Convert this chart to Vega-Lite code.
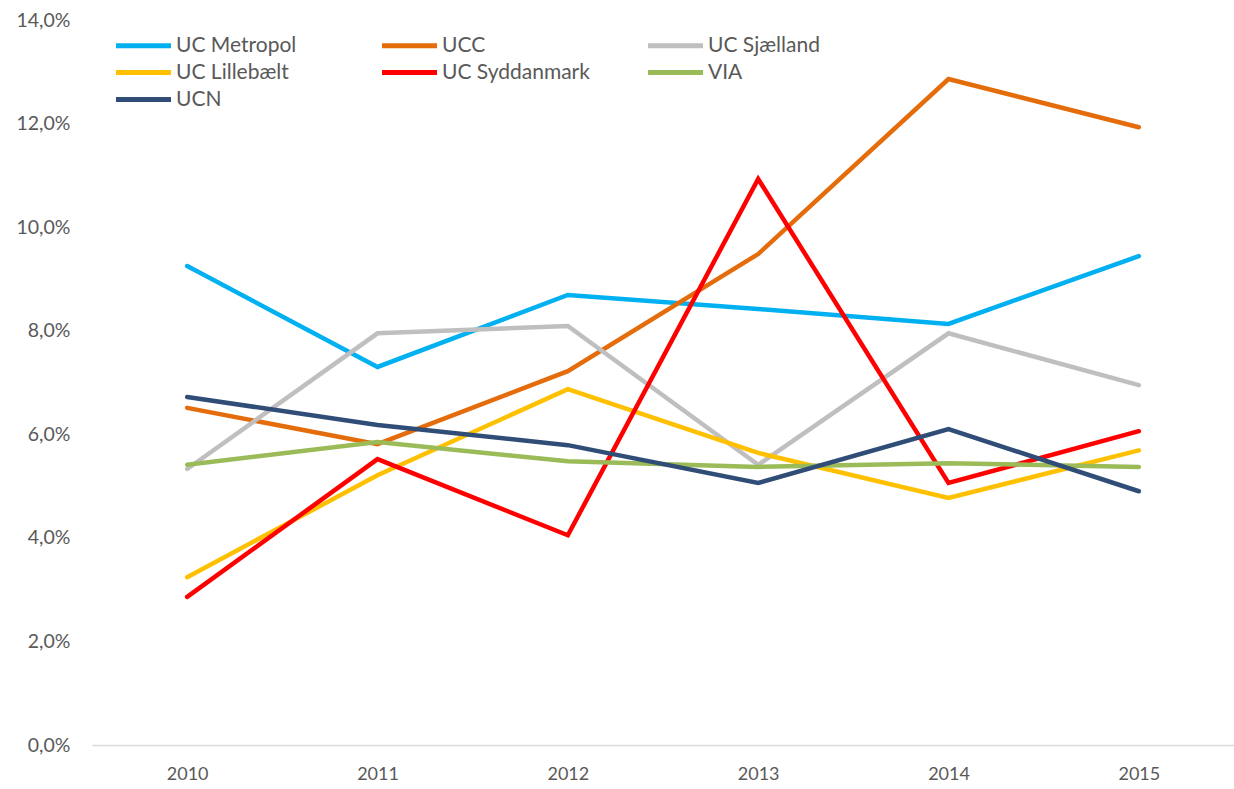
{
  "$schema": "https://vega.github.io/schema/vega-lite/v6.json",
  "width": 1142,
  "height": 725,
  "autosize": {"type": "none"},
  "padding": {"left": 92, "top": 20, "right": 0, "bottom": 44},
  "background": "white",
  "config": {
    "locale": {"number": {"decimal": ",", "thousands": ".", "grouping": [3], "currency": ["", " kr."]}},
    "view": {"stroke": null},
    "font": "Lato"
  },
  "data": {
    "values": [
      {"serie": "UC Metropol", "year": "2010", "value": 0.0925},
      {"serie": "UC Metropol", "year": "2011", "value": 0.0730},
      {"serie": "UC Metropol", "year": "2012", "value": 0.0869},
      {"serie": "UC Metropol", "year": "2013", "value": 0.0842},
      {"serie": "UC Metropol", "year": "2014", "value": 0.0813},
      {"serie": "UC Metropol", "year": "2015", "value": 0.0944},
      {"serie": "UCC", "year": "2010", "value": 0.0651},
      {"serie": "UCC", "year": "2011", "value": 0.0581},
      {"serie": "UCC", "year": "2012", "value": 0.0722},
      {"serie": "UCC", "year": "2013", "value": 0.0948},
      {"serie": "UCC", "year": "2014", "value": 0.1286},
      {"serie": "UCC", "year": "2015", "value": 0.1193},
      {"serie": "UC Sjælland", "year": "2010", "value": 0.0533},
      {"serie": "UC Sjælland", "year": "2011", "value": 0.0795},
      {"serie": "UC Sjælland", "year": "2012", "value": 0.0809},
      {"serie": "UC Sjælland", "year": "2013", "value": 0.0541},
      {"serie": "UC Sjælland", "year": "2014", "value": 0.0795},
      {"serie": "UC Sjælland", "year": "2015", "value": 0.0695},
      {"serie": "UC Lillebælt", "year": "2010", "value": 0.0324},
      {"serie": "UC Lillebælt", "year": "2011", "value": 0.0521},
      {"serie": "UC Lillebælt", "year": "2012", "value": 0.0687},
      {"serie": "UC Lillebælt", "year": "2013", "value": 0.0564},
      {"serie": "UC Lillebælt", "year": "2014", "value": 0.0477},
      {"serie": "UC Lillebælt", "year": "2015", "value": 0.0569},
      {"serie": "UC Syddanmark", "year": "2010", "value": 0.0286},
      {"serie": "UC Syddanmark", "year": "2011", "value": 0.0552},
      {"serie": "UC Syddanmark", "year": "2012", "value": 0.0405},
      {"serie": "UC Syddanmark", "year": "2013", "value": 0.1093},
      {"serie": "UC Syddanmark", "year": "2014", "value": 0.0506},
      {"serie": "UC Syddanmark", "year": "2015", "value": 0.0606},
      {"serie": "VIA", "year": "2010", "value": 0.0541},
      {"serie": "VIA", "year": "2011", "value": 0.0585},
      {"serie": "VIA", "year": "2012", "value": 0.0548},
      {"serie": "VIA", "year": "2013", "value": 0.0537},
      {"serie": "VIA", "year": "2014", "value": 0.0544},
      {"serie": "VIA", "year": "2015", "value": 0.0537},
      {"serie": "UCN", "year": "2010", "value": 0.0672},
      {"serie": "UCN", "year": "2011", "value": 0.0618},
      {"serie": "UCN", "year": "2012", "value": 0.0579},
      {"serie": "UCN", "year": "2013", "value": 0.0506},
      {"serie": "UCN", "year": "2014", "value": 0.0610},
      {"serie": "UCN", "year": "2015", "value": 0.0490}
    ]
  },
  "mark": {"type": "line", "strokeWidth": 4.5, "strokeCap": "round", "strokeJoin": "miter"},
  "encoding": {
    "x": {
      "field": "year", "type": "ordinal",
      "scale": {"type": "point", "padding": 0.5},
      "axis": {
        "title": null, "labelAngle": 0, "ticks": false,
        "domainColor": "#D9D9D9", "domainWidth": 1.5,
        "labelColor": "#595959", "labelFontSize": 18, "labelPadding": 20
      }
    },
    "y": {
      "field": "value", "type": "quantitative",
      "scale": {"domain": [0, 0.14], "nice": false},
      "axis": {
        "title": null, "format": ".1%", "values": [0, 0.02, 0.04, 0.06, 0.08, 0.1, 0.12, 0.14],
        "grid": false, "domain": false, "ticks": false,
        "labelColor": "#595959", "labelFontSize": 19.5, "labelPadding": 22
      }
    },
    "color": {
      "field": "serie", "type": "nominal",
      "scale": {
        "domain": ["UC Metropol", "UC Lillebælt", "VIA", "UCC", "UC Syddanmark", "UCN", "UC Sjælland"],
        "range": ["#00B0F0", "#FFC000", "#9BBB59", "#E46C0A", "#FF0000", "#2F4D76", "#BFBFBF"]
      },
      "legend": {
        "title": null, "orient": "none", "legendX": 41, "legendY": 15,
        "columns": 3, "gridAlign": "all", "columnPadding": 48, "rowPadding": 5,
        "symbolType": "M-5,0H5", "symbolSize": 121, "symbolStrokeWidth": 5,
        "labelFontSize": 21, "labelColor": "#595959", "labelOffset": 22,
        "labelLimit": 300
      }
    }
  }
}
